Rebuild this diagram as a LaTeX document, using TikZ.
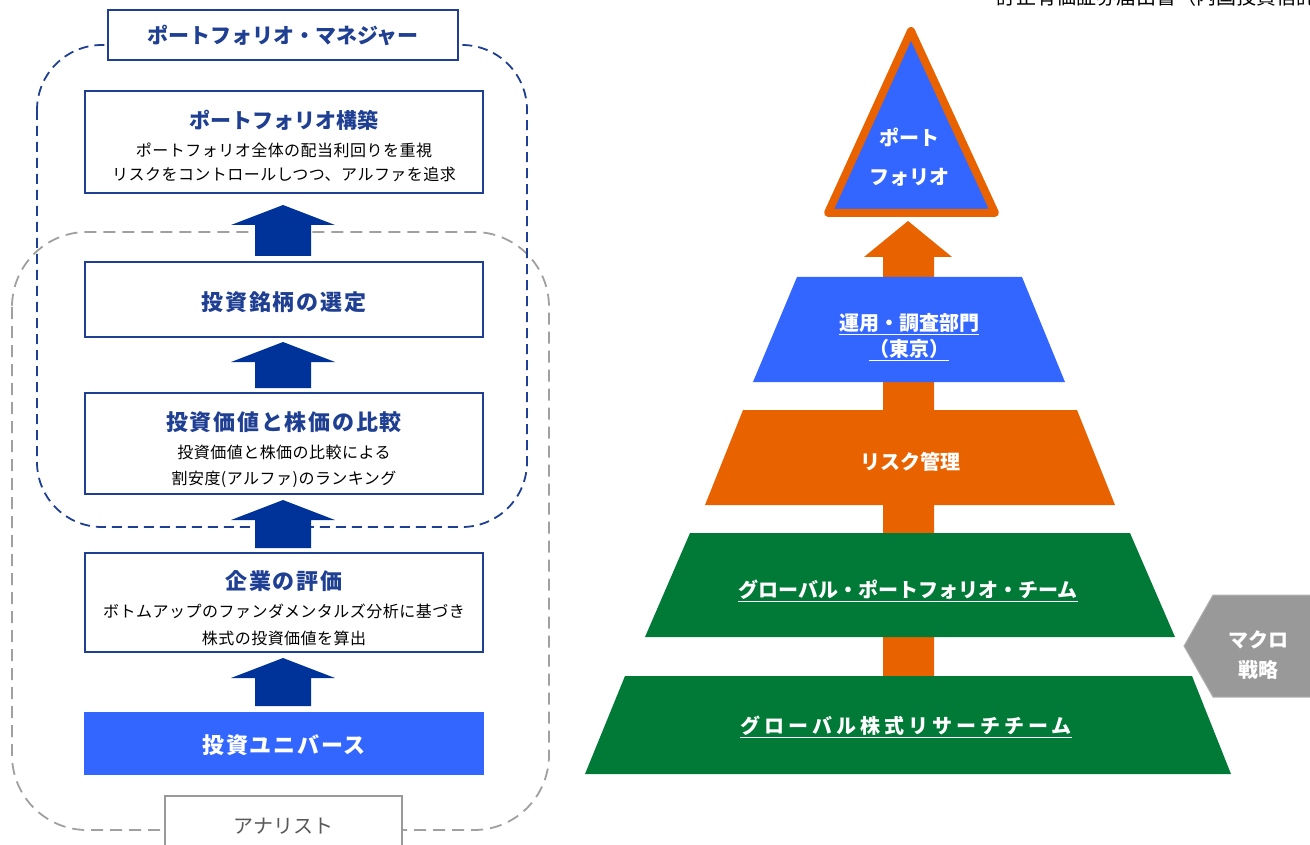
\documentclass[tikz,border=0pt]{standalone}
\usepackage{fontspec}
\setmainfont{Noto Sans CJK JP}
\definecolor{navy}{HTML}{1F3F93}
\definecolor{navyfill}{HTML}{003399}
\definecolor{pblue}{HTML}{3366FF}
\definecolor{porange}{HTML}{E96200}
\definecolor{pgreen}{HTML}{007A36}
\definecolor{dgray}{HTML}{A0A0A0}
\definecolor{mgray}{HTML}{999999}
\tikzset{
  box/.style={draw=navy, line width=1.6pt, fill=white, minimum width=398pt, inner sep=0pt},
  titletext/.style={font=\fontsize{21}{25}\selectfont\bfseries, text=navy},
  widetitle/.style={font=\fontsize{22}{26}\selectfont\bfseries\addfontfeature{LetterSpace=8}, text=navy},
  subtext/.style={font=\fontsize{16}{19}\selectfont\addfontfeature{LetterSpace=3}, text=black},
  layertext/.style={font=\fontsize{20}{24}\selectfont\bfseries, text=white},
  navyarrow/.style={fill=navyfill},
  bluegroup/.style={draw=navy, line width=1.8pt, dash pattern=on 10pt off 6pt, rounded corners=65pt},
  graygroup/.style={draw=dgray, line width=1.8pt, dash pattern=on 12pt off 7pt, rounded corners=75pt},
}
\begin{document}
\begin{tikzpicture}[x=1pt,y=-1pt]
\useasboundingbox (0,0) rectangle (1310,845);
\clip (0,0) rectangle (1310,845);

% header text (cut by page edge, as in the reference)
\node[anchor=base west, inner sep=0pt, font=\fontsize{20}{24}\selectfont] (hdr) at (996,5) {訂正有価証券届出書（内国投資信託受益証券）};

% group outlines
\draw[graygroup] (12,232) rectangle (549,830);
\draw[bluegroup] (37,45) rectangle (527,527);

% group labels
\node[box, minimum width=350pt, minimum height=50pt] (pm) at (283,35) {};
\node[titletext] (pmt) at (pm.center) {ポートフォリオ・マネジャー};
\node[draw=mgray, line width=2pt, fill=white, minimum width=237pt, minimum height=60pt, inner sep=0pt] (an) at (283.5,826) {};
\node[font=\fontsize{20}{24}\selectfont, text=black!65] (ant) at (283.5,826) {アナリスト};

% boxes
\node[box, minimum height=102pt] (b1) at (284,142) {};
\node[titletext] (b1t) at (284,120) {ポートフォリオ構築};
\node[subtext] (b1a) at (284,150) {ポートフォリオ全体の配当利回りを重視};
\node[subtext] (b1b) at (284,174) {リスクをコントロールしつつ、アルファを追求};

\node[box, minimum height=75pt] (b2) at (284,299.5) {};
\node[widetitle] (b2t) at (284,302) {投資銘柄の選定};

\node[box, minimum height=101pt] (b3) at (284,443.5) {};
\node[widetitle] (b3t) at (284,422) {投資価値と株価の比較};
\node[subtext] (b3a) at (284,452) {投資価値と株価の比較による};
\node[subtext] (b3b) at (284,479) {割安度(アルファ)のランキング};

\node[box, minimum height=99pt] (b4) at (284,602.5) {};
\node[widetitle] (b4t) at (284,581) {企業の評価};
\node[subtext] (b4a) at (284,611) {ボトムアップのファンダメンタルズ分析に基づき};
\node[subtext] (b4b) at (284,638) {株式の投資価値を算出};

\node[fill=pblue, minimum width=400pt, minimum height=63pt, inner sep=0pt] (b5) at (284,743) {};
\node[widetitle, text=white] (b5t) at (284,745) {投資ユニバース};

% navy block arrows
\fill[navyarrow] (283,205) -- (335,225) -- (311,225) -- (311,256) -- (255,256) -- (255,225) -- (231,225) -- cycle;
\fill[navyarrow] (283,342) -- (335,362) -- (311,362) -- (311,388) -- (255,388) -- (255,362) -- (231,362) -- cycle;
\fill[navyarrow] (283,500) -- (335,520) -- (311,520) -- (311,548) -- (255,548) -- (255,520) -- (231,520) -- cycle;
\fill[navyarrow] (283,658) -- (335,678) -- (311,678) -- (311,706) -- (255,706) -- (255,678) -- (231,678) -- cycle;

% pyramid: orange arrow behind layers
\fill[porange] (908,221) -- (952,257) -- (934,257) -- (934,690) -- (883,690) -- (883,257) -- (864,257) -- cycle;

% apex triangle
\draw[porange, fill=pblue, line width=8pt, line join=round] (911,31) -- (995,213) -- (828,213) -- cycle;
\node[layertext] (tri1) at (909,137) {ポート};
\node[layertext] (tri2) at (909,177) {フォリオ};

% layers
\fill[pblue] (797,277) -- (1022,277) -- (1065,382) -- (753,382) -- cycle;
\node[layertext] (l1a) at (909,324) {\underline{運用・調査部門}};
\node[layertext] (l1b) at (909,350) {\underline{（東京）}};

\fill[porange] (743,410) -- (1077,410) -- (1115,505) -- (705,505) -- cycle;
\node[layertext] (l2) at (910,462) {リスク管理};

\fill[pgreen] (690,533) -- (1130,533) -- (1175,637) -- (645,637) -- cycle;
\node[layertext] (l3) at (908,591) {\underline{グローバル・ポートフォリオ・チーム}};

\fill[pgreen] (625,676) -- (1192,676) -- (1231,774) -- (585,774) -- cycle;
\node[layertext, font=\fontsize{20}{24}\selectfont\bfseries\addfontfeature{LetterSpace=20}] (l4) at (906,727) {\underline{グローバル株式リサーチチーム}};

% macro strategy tag
\draw[draw=black!30, fill=mgray, line width=1pt] (1320,595) -- (1213,595) -- (1184,646) -- (1213,697) -- (1320,697);
\node[layertext] (m1) at (1258,640) {マクロ};
\node[layertext] (m2) at (1258,670) {戦略};
\end{tikzpicture}
\end{document}
